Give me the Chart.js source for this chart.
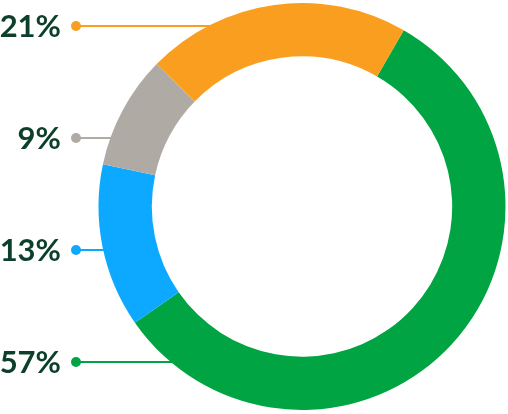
<!DOCTYPE html>
<html lang="en">
<head>
<meta charset="UTF-8">
<title>Share Doughnut</title>
<style>
html, body { margin: 0; padding: 0; background: #fff; }
#wrap { width: 508px; height: 414px; position: relative; }
</style>
</head>
<body>
<div id="wrap"><canvas id="share"></canvas></div>
<script src="https://cdn.jsdelivr.net/npm/chart.js@4.4.1/dist/chart.umd.min.js"></script>
<script>
// data, in drawing order (clockwise from the start angle)
const categories = ['Segment A', 'Segment B', 'Segment C', 'Segment D'];
const shares = [57, 13, 9, 21];
const shareLabels = ['57%', '13%', '9%', '21%'];
const colors = ['#00a443', '#0da8ff', '#b0aaa5', '#f99e1e'];

// labels on the left, with a dot and a line running to the ring
const leaderLabels = {
  id: 'leaderLabels',
  afterDraw(chart, args, opts) {
    const ctx = chart.ctx;
    const arcs = chart.getDatasetMeta(0).data;
    if (!arcs.length) return;
    const cx = arcs[0].x, cy = arcs[0].y, R = arcs[0].outerRadius;
    ctx.save();
    ctx.font = opts.font;
    ctx.textAlign = 'right';
    ctx.textBaseline = 'middle';
    // listed top to bottom, last segment first
    let row = 0;
    for (let i = arcs.length - 1; i >= 0; i--) {
      const y = opts.top + row * opts.step;
      const dy = y - cy;
      const xEnd = cx - Math.sqrt(Math.max(R * R - dy * dy, 0)) + 2;
      ctx.strokeStyle = colors[i];
      ctx.fillStyle = colors[i];
      ctx.lineWidth = 2;
      ctx.beginPath();
      ctx.moveTo(opts.dotX, y);
      ctx.lineTo(xEnd, y);
      ctx.stroke();
      ctx.beginPath();
      ctx.arc(opts.dotX, y, 5, 0, Math.PI * 2);
      ctx.fill();
      ctx.fillStyle = opts.color;
      ctx.fillText(shareLabels[i], opts.textX, y + 1);
      row++;
    }
    ctx.restore();
  }
};

new Chart(document.getElementById('share'), {
  type: 'doughnut',
  data: {
    labels: categories,
    datasets: [{ data: shares, backgroundColor: colors, borderWidth: 0, hoverOffset: 0 }]
  },
  options: {
    responsive: true,
    maintainAspectRatio: false,
    animation: false,
    rotation: 30,
    cutout: '73.8%',
    layout: { padding: { left: 98, right: 2, top: 3, bottom: 4 } },
    plugins: {
      legend: { display: false },
      tooltip: { enabled: false },
      leaderLabels: { top: 26, step: 112, dotX: 76, textX: 61, font: 'bold 31px Lato', color: '#0d3f2b' }
    }
  },
  plugins: [leaderLabels]
});
</script>
</body>
</html>
